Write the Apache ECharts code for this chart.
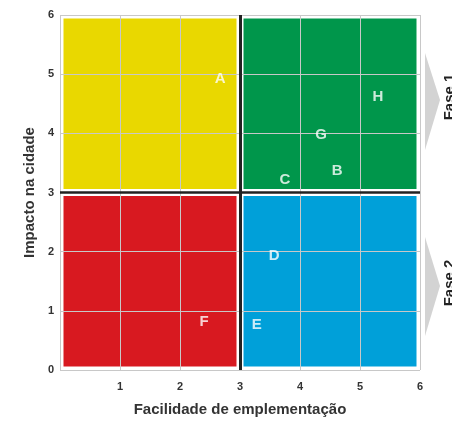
<!DOCTYPE html>
<html><head><meta charset="utf-8">
<script src="https://cdn.jsdelivr.net/npm/echarts@6/dist/echarts.min.js"></script>
<style>html,body{margin:0;padding:0;background:#fff}#c{width:452px;height:422px}</style>
</head><body><div id="c"></div>
<script>
var xTicks = [0, 1, 2, 3, 4, 5, 6];
var yTicks = [0, 1, 2, 3, 4, 5, 6];
// quadrants: [xMin, xMax, yMin, yMax, color]
var quadX0 = [0, 3, 0, 3];
var quadX1 = [3, 6, 3, 6];
var quadY0 = [3, 3, 0, 0];
var quadY1 = [6, 6, 3, 3];
var quadColors = ['#e9d800', '#00964b', '#d81920', '#00a0d9'];
var pointNames = ['A', 'B', 'C', 'D', 'E', 'F', 'G', 'H'];
var pointX = [2.67, 4.62, 3.75, 3.57, 3.28, 2.4, 4.35, 5.3];
var pointY = [4.92, 3.36, 3.21, 1.93, 0.77, 0.81, 3.97, 4.62];
var phaseLabels = ['Fase 1', 'Fase 2'];

var chart = echarts.init(document.getElementById('c'));
var quadData = quadX0.map(function (v, i) { return [quadX0[i], quadX1[i], quadY0[i], quadY1[i], i]; });
var pts = pointNames.map(function (n, i) { return { name: n, value: [pointX[i], pointY[i]] }; });
var lblFont = 'Liberation Sans, Arial, sans-serif';

chart.setOption({
  animation: false,
  grid: { left: 60, right: 32, top: 15, bottom: 48 },
  xAxis: {
    type: 'value', min: 0, max: 6, interval: 1, z: 3,
    name: 'Facilidade de emplementação', nameLocation: 'middle', nameGap: 32,
    nameTextStyle: { fontSize: 15, fontWeight: 'bold', color: '#333', fontFamily: lblFont },
    axisLine: { show: false }, axisTick: { show: false },
    axisLabel: { fontSize: 11, fontWeight: 'bold', color: '#333', margin: 11, fontFamily: lblFont,
      formatter: function (v) { return v === 0 ? '' : String(xTicks[v]); } },
    splitLine: { lineStyle: { color: '#c8c8c8', width: 1 } }
  },
  yAxis: {
    type: 'value', min: 0, max: 6, interval: 1, z: 3,
    name: 'Impacto na cidade', nameLocation: 'middle', nameGap: 22, nameRotate: 90,
    nameTextStyle: { fontSize: 15, fontWeight: 'bold', color: '#333', fontFamily: lblFont },
    axisLine: { show: false }, axisTick: { show: false },
    axisLabel: { fontSize: 11, fontWeight: 'bold', color: '#333', margin: 6, fontFamily: lblFont,
      formatter: function (v) { return String(yTicks[v]); } },
    splitLine: { lineStyle: { color: '#c8c8c8', width: 1 } }
  },
  series: [
    {
      type: 'custom', z: 1,
      data: quadData,
      renderItem: function (params, api) {
        var p0 = api.coord([api.value(0), api.value(3)]);
        var p1 = api.coord([api.value(1), api.value(2)]);
        var inset = 3.5;
        return {
          type: 'rect',
          shape: { x: p0[0] + inset, y: p0[1] + inset, width: p1[0] - p0[0] - 2 * inset, height: p1[1] - p0[1] - 2 * inset },
          style: { fill: quadColors[api.value(4)] }
        };
      },
      markLine: {
        silent: true, symbol: 'none', z: 5,
        label: { show: false },
        data: [
          { xAxis: 3, lineStyle: { color: '#222', width: 3, type: 'solid' } },
          { yAxis: 3, lineStyle: { color: '#222', width: 2.5, type: 'solid' } }
        ]
      }
    },
    {
      type: 'scatter', z: 6, symbolSize: 0,
      data: pts,
      label: { show: true, position: 'inside', formatter: '{b}', color: '#fff', fontSize: 15, fontWeight: 'bold', fontFamily: lblFont }
    }
  ],
  graphic: [
    { type: 'polygon', shape: { points: [[425, 53], [440, 100], [425, 150]] }, style: { fill: '#d3d3d3' } },
    { type: 'polygon', shape: { points: [[425, 237], [440, 286], [425, 336]] }, style: { fill: '#d3d3d3' } },
    { type: 'text', x: 449.5, y: 97, rotation: Math.PI / 2,
      style: { text: phaseLabels[0], fill: '#222', font: 'bold 15px ' + lblFont, align: 'center', verticalAlign: 'middle' } },
    { type: 'text', x: 449.5, y: 283, rotation: Math.PI / 2,
      style: { text: phaseLabels[1], fill: '#222', font: 'bold 15px ' + lblFont, align: 'center', verticalAlign: 'middle' } }
  ]
});
</script></body></html>
